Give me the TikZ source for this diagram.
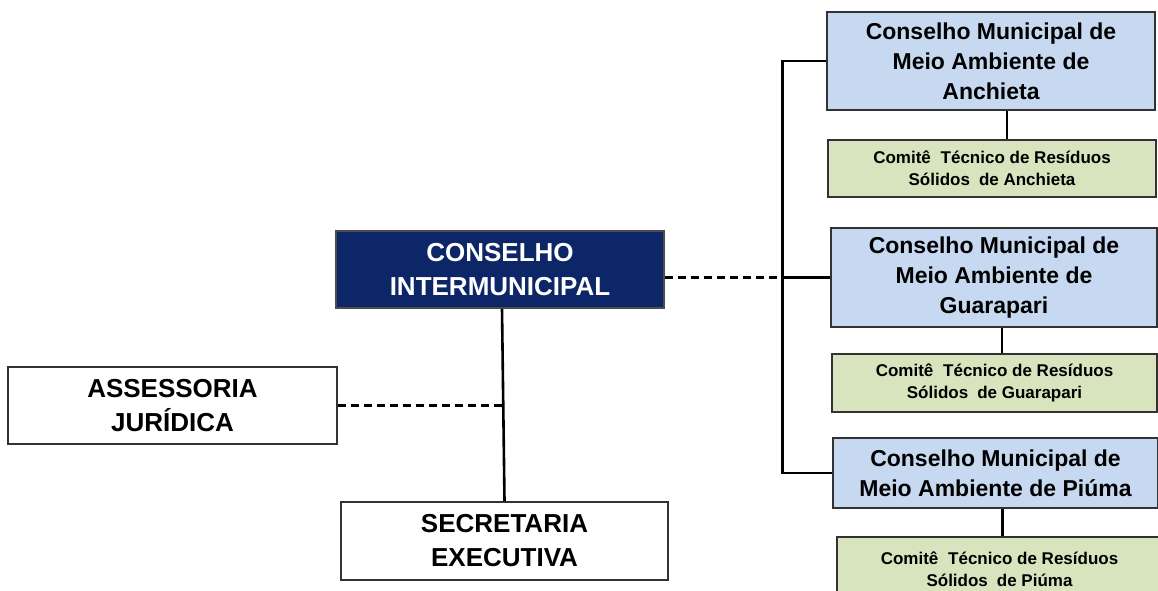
\documentclass[tikz,border=0pt]{standalone}
\usepackage{fontspec}
\setmainfont{Liberation Sans}
\usetikzlibrary{calc}
\definecolor{navyfill}{RGB}{12,38,104}
\definecolor{bluefill}{RGB}{198,217,241}
\definecolor{greenfill}{RGB}{215,228,189}
\definecolor{bordergray}{RGB}{50,50,50}
\tikzset{
  box/.style={draw=bordergray, line width=1.6pt, align=center, inner sep=0pt},
  bigtxt/.style={font=\fontsize{26}{34}\selectfont\bfseries},
  midtxt/.style={font=\fontsize{23}{30}\selectfont\bfseries},
  smalltxt/.style={font=\fontsize{17}{22}\selectfont\bfseries},
  conn/.style={line width=2.6pt, black},
  dconn/.style={line width=2.6pt, black, dash pattern=on 8pt off 5pt},
}
\begin{document}
\begin{tikzpicture}[x=1pt,y=-1pt]
\useasboundingbox[fill=white] (0,0) rectangle (1158,590);

\node[box, bigtxt, fill=navyfill, draw=black!70, text=white, minimum width=328pt, minimum height=77pt] (navy) at (500,269.5) {CONSELHO\\INTERMUNICIPAL};
\node[box, bigtxt, fill=white, minimum width=329pt, minimum height=77pt] (assess) at (172.5,405.5) {ASSESSORIA\\JURÍDICA};
\node[box, bigtxt, fill=white, minimum width=327pt, minimum height=78pt] (secr) at (504.5,541) {SECRETARIA\\EXECUTIVA};

\node[box, midtxt, fill=bluefill, minimum width=328pt, minimum height=98pt] (blue1) at (991,61) {Conselho Municipal de\\Meio Ambiente de\\Anchieta};
\node[box, smalltxt, fill=greenfill, minimum width=328pt, minimum height=57pt] (green1) at (992,168.5) {Comitê\hspace{0.3em} Técnico de Resíduos\\Sólidos\hspace{0.25em} de Anchieta};

\node[box, midtxt, fill=bluefill, minimum width=326pt, minimum height=99pt] (blue2) at (994,277.5) {Conselho Municipal de\\Meio Ambiente de\\Guarapari};
\node[box, smalltxt, fill=greenfill, minimum width=325pt, minimum height=58pt] (green2) at (994.5,383) {Comitê\hspace{0.3em} Técnico de Resíduos\\Sólidos\hspace{0.25em} de Guarapari};

\node[box, midtxt, fill=bluefill, minimum width=325pt, minimum height=70pt] (blue3) at (995.5,473) {Conselho Municipal de\\Meio Ambiente de Piúma};
\node[box, smalltxt, fill=greenfill, minimum width=325pt, minimum height=65pt] (green3) at (999.5,569.5) {Comitê\hspace{0.3em} Técnico de Resíduos\\Sólidos\hspace{0.25em} de Piúma};

% bus on the right
\coordinate (bus) at ($(blue2.west)+(-48,0)$);
\draw[conn] (blue1.west) -| (bus) |- (blue3.west);
\draw[conn] (blue2.west) -- (bus);
\draw[dconn] (navy.east |- blue2.west) -- (bus);

% blue to green
\draw[conn] ([xshift=16pt]blue1.south) -- ([xshift=16pt]blue1.south |- green1.north);
\draw[conn] ([xshift=8pt]blue2.south) -- ([xshift=8pt]blue2.south |- green2.north);
\draw[conn] ([xshift=7pt]blue3.south) -- ([xshift=7pt]blue3.south |- green3.north);

% left side
\draw[conn] ([xshift=2pt]navy.south) -- (secr.north);
\coordinate (jn) at ($(navy.south)!0.5!(secr.north)$);
\draw[dconn] (assess.east) -- (assess.east -| jn);
\end{tikzpicture}
\end{document}
